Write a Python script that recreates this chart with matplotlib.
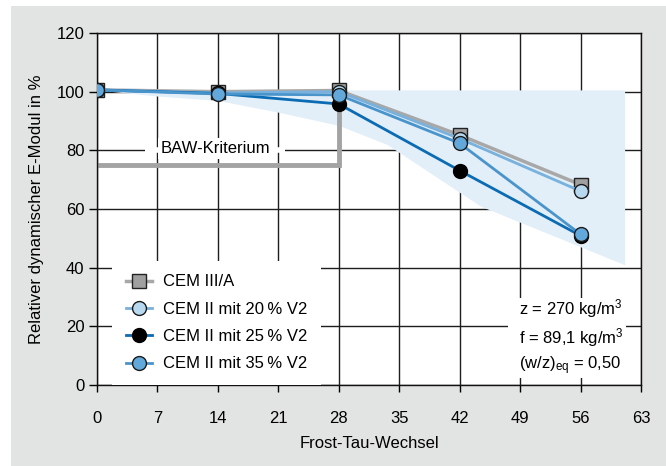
import matplotlib.pyplot as plt
from matplotlib.patches import Rectangle
import numpy as np

plt.rcParams['font.family'] = ['Liberation Sans', 'DejaVu Sans']
plt.rcParams['mathtext.fontset'] = 'custom'
plt.rcParams['mathtext.rm'] = 'Liberation Sans'
plt.rcParams['mathtext.it'] = 'Liberation Sans'

# Frost-Tau-Wechsel
zyklen = [0, 14, 28, 42, 56]
cem3a = [100.6, 100.0, 100.4, 85.2, 68.3]
cem2_20 = [100.6, 99.6, 100.0, 84.0, 66.1]
cem2_25 = [100.6, 99.4, 95.8, 73.1, 50.9]
cem2_35 = [100.6, 99.2, 98.9, 82.4, 51.4]

# Streubereich (hellblau)
band_x = [0, 7, 14, 21, 28, 33.6, 44.4, 61.1]
band_lo = [100.6, 98.5, 97.0, 93.0, 88.5, 82.0, 61.0, 41.0]
band_hi = [100.6, 100.6, 100.6, 100.6, 100.6, 100.6, 100.6, 100.6]

# BAW-Kriterium
baw_x = [0, 28, 28]
baw_y = [75, 75, 95.5]

fs = 12

fig = plt.figure(figsize=(6.66, 4.66), dpi=100)
fig.patches.append(Rectangle((11 / 666, 0), 1, 460 / 466, transform=fig.transFigure,
                             facecolor='#e2e3e3', edgecolor='none', zorder=-10))
ax = fig.add_axes([97 / 666, 1 - 385 / 466, 544 / 666, 352 / 466])
ax.set_facecolor('white')

ax.fill_between(band_x, band_lo, band_hi, color='#e3eff8', lw=0, zorder=1)
ax.plot(baw_x, baw_y, color='#a3a3a3', lw=3.5, solid_joinstyle='miter', zorder=2)
# weisse Luecke im Gitter hinter dem Text
ax.hlines(80, 5.56, 21.8, color='white', lw=4, zorder=2.5)
ax.text(13.7, 80.6, 'BAW-Kriterium', ha='center', va='center', fontsize=fs,
        bbox=dict(facecolor='white', edgecolor='none', pad=2), zorder=3)

ax.plot(zyklen, cem3a, color='#a8a8a8', lw=2.5, marker='s', ms=9.5,
        mfc='#a0a0a0', mec='#222222', mew=1, label='CEM III/A', zorder=4)
ax.plot(zyklen, cem2_20, color='#78b1dd', lw=2, marker='o', ms=10,
        mfc='#b8d8f0', mec='#1a1a1a', mew=1, label='CEM II mit 20\u202f% V2', zorder=5)
ax.plot(zyklen, cem2_25, color='#0b6bb3', lw=2, marker='o', ms=10,
        mfc='black', mec='black', mew=1, label='CEM II mit 25\u202f% V2', zorder=6)
ax.plot(zyklen, cem2_35, color='#4a94cc', lw=2, marker='o', ms=10,
        mfc='#62a8da', mec='#1a1a1a', mew=1, label='CEM II mit 35\u202f% V2', zorder=7)

ax.set_xlim(0, 63)
ax.set_ylim(0, 120)
ax.set_xticks(np.arange(0, 64, 7))
ax.set_yticks(np.arange(0, 121, 20))
ax.grid(True, color='#1e1e1e', lw=1)
ax.set_axisbelow(True)
ax.tick_params(axis='x', direction='out', length=5, width=1, pad=14, labelsize=fs)
ax.tick_params(axis='y', direction='out', length=6, width=1, pad=3, labelsize=fs)
for s in ax.spines.values():
    s.set_color('#111111')
    s.set_linewidth(1)

ax.set_xlabel('Frost-Tau-Wechsel', fontsize=fs)
ax.set_ylabel('Relativer dynamischer E-Modul in %', fontsize=fs)
ax.xaxis.set_label_coords(0.5, -0.145)
ax.yaxis.set_label_coords(-0.097, 0.5)

leg = ax.legend(loc='lower left', bbox_to_anchor=(0.028, 0.0), frameon=True,
                fontsize=fs, handlelength=1.55, handletextpad=0.7,
                labelspacing=0.74, borderpad=0.82, borderaxespad=0.0)
leg.get_frame().set_facecolor('white')
leg.get_frame().set_edgecolor('none')
leg.get_frame().set_alpha(1)
leg.get_frame().set_boxstyle('square', pad=0)

# Kasten fuer die Rezeptur
ax.add_patch(Rectangle(((508 - 97) / 544, 7 / 352), 118 / 544, 80 / 352,
                       transform=ax.transAxes, facecolor='white', edgecolor='none', zorder=8))
ax.text(0.776, 0.136, 'z = 270 kg/m$^3$\nf = 89,1 kg/m$^3$\n(w/z)$_{\\mathrm{eq}}$ = 0,50',
        transform=ax.transAxes, ha='left', va='center', fontsize=fs, linespacing=1.35,
        zorder=9)

fig.savefig('out.png', dpi=100, facecolor='white')
